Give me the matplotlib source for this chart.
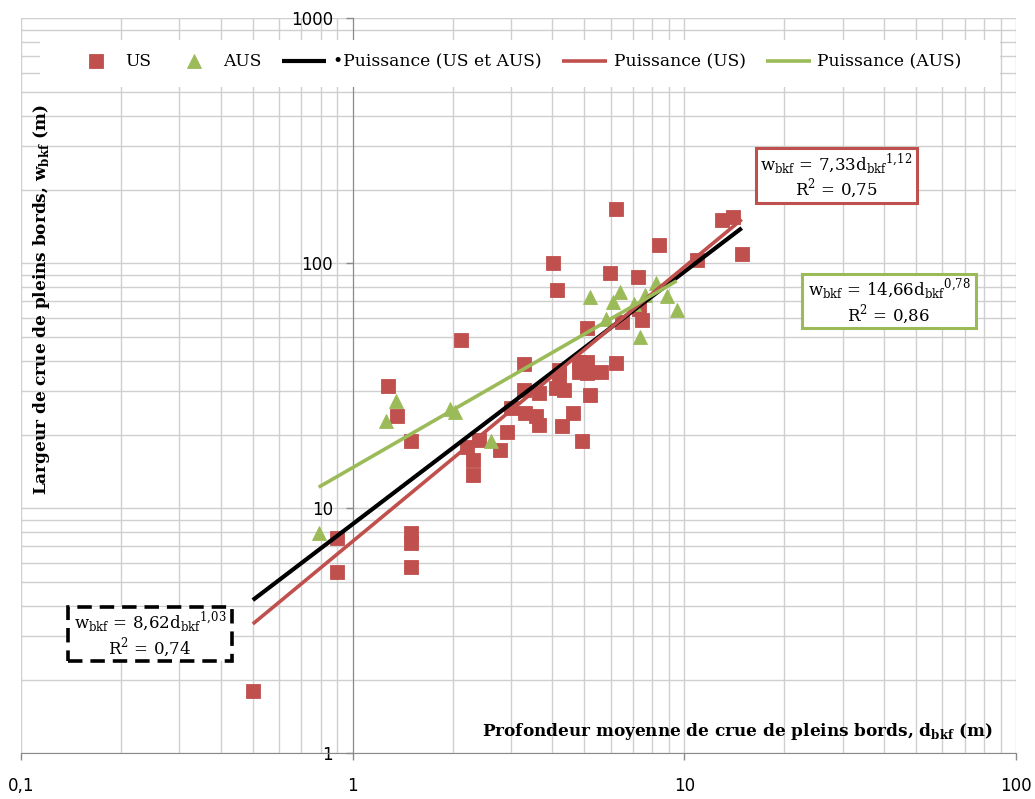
import numpy as np
import matplotlib
matplotlib.use('Agg')
import matplotlib.pyplot as plt
from matplotlib.patches import Rectangle
from matplotlib.ticker import LogLocator, FixedLocator, FixedFormatter, NullFormatter

# ---------------- data ----------------
us_d = [0.50, 0.90, 0.90, 1.28, 1.36, 1.50, 1.50, 1.50, 1.50, 2.12, 2.21, 2.40, 2.30, 2.30,
        2.79, 2.91, 3.00, 3.28, 3.28, 3.30, 3.56, 3.64, 3.64, 4.01, 4.12, 4.09, 4.18, 4.18,
        4.33, 4.27, 4.61, 4.80, 4.80, 4.90, 5.08, 5.08, 5.08, 5.18, 5.59, 5.95, 6.21, 6.21,
        6.47, 7.23, 7.28, 7.43, 8.37, 10.9, 13.0, 14.0, 14.9]
us_w = [1.80, 7.56, 5.50, 31.6, 23.8, 18.8, 7.93, 7.22, 5.76, 48.6, 17.8, 19.0, 15.7, 13.7,
        17.3, 20.5, 25.7, 38.8, 30.4, 24.5, 23.8, 29.6, 21.9, 100.3, 77.8, 31.0, 36.7, 34.4,
        30.4, 21.7, 24.5, 39.6, 36.0, 18.8, 39.6, 35.7, 54.4, 29.0, 36.0, 91.3, 166.5, 39.2,
        57.6, 87.9, 65.1, 58.7, 118.8, 103.2, 150.2, 154.5, 109.1]

aus_d = [0.79, 1.26, 1.35, 1.96, 2.03, 2.61, 5.18, 5.79, 6.08, 6.38, 7.03, 7.33, 7.59, 8.19, 8.84, 9.48]
aus_w = [7.93, 22.7, 27.4, 25.4, 24.7, 18.8, 72.9, 59.3, 69.5, 76.4, 68.2, 50.0, 74.2, 83.1, 73.6, 64.5]

series_names = ['US', 'AUS']
fit_names = ['•Puissance (US et AUS)', 'Puissance (US)', 'Puissance (AUS)']
fit_coef = [8.62, 7.33, 14.66]
fit_expo = [1.03, 1.12, 0.78]
fit_coef_txt = ['8,62', '7,33', '14,66']
fit_expo_txt = ['1{,}03', '1{,}12', '0{,}78']
fit_r2_txt = ['0,74', '0,75', '0,86']

x_ticks = [0.1, 1, 10, 100]
x_ticklabels = ['0,1', '1', '10', '100']
y_ticks = [1, 10, 100, 1000]
y_ticklabels = ['1', '10', '100', '1000']

x_label = r'Profondeur moyenne de crue de pleins bords, d$_{\mathregular{bkf}}$ (m)'
y_label = r'Largeur de crue de pleins bords, w$_{\mathregular{bkf}}$ (m)'

# ---------------- style ----------------
RED = '#C0504D'
GREEN = '#9BBB59'
BLACK = '#000000'
GRID = '#cfcfcf'
AXIS = '#8a8a8a'
SERIF = ['DejaVu Serif', 'Liberation Serif']

W, H = 1035, 799
fig = plt.figure(figsize=(W / 100, H / 100), dpi=100)
fig.patch.set_facecolor('white')

def fx(px):
    return px / W

def fy(py):
    return 1 - py / H

ax = fig.add_axes([fx(21), fy(753.3), (1016 - 21) / W, (753.3 - 18.3) / H])
ax.set_xscale('log')
ax.set_yscale('log')

# scatter series
ax.plot(us_d, us_w, linestyle='none', marker='s', ms=9.8, color=RED, mec=RED,
        mew=0.6, zorder=3, label=series_names[0])
ax.plot(aus_d, aus_w, linestyle='none', marker='^', ms=10.5, color=GREEN, mec=GREEN,
        mew=0.6, zorder=3, label=series_names[1])

# power trend lines
all_d = us_d + aus_d
ranges = [(min(all_d), max(all_d)), (min(us_d), max(us_d)), (min(aus_d), max(aus_d))]
fit_colors = [BLACK, RED, GREEN]
fit_lw = [3.0, 2.6, 2.6]
for name, a, b, (lo, hi), c, lw in zip(fit_names, fit_coef, fit_expo, ranges, fit_colors, fit_lw):
    xs = np.array([lo, hi])
    ax.plot(xs, a * xs ** b, color=c, lw=lw, solid_capstyle='butt', zorder=4, label=name)

ax.set_xlim(0.1, 100)
ax.set_ylim(1, 1000)

# ticks and grid
ax.xaxis.set_major_locator(FixedLocator(x_ticks))
ax.xaxis.set_major_formatter(FixedFormatter(x_ticklabels))
ax.yaxis.set_major_locator(FixedLocator(y_ticks))
ax.yaxis.set_major_formatter(FixedFormatter(y_ticklabels))
ax.xaxis.set_minor_locator(LogLocator(base=10, subs=np.arange(2, 10)))
ax.yaxis.set_minor_locator(LogLocator(base=10, subs=np.arange(2, 10)))
ax.xaxis.set_minor_formatter(NullFormatter())
ax.yaxis.set_minor_formatter(NullFormatter())
ax.grid(which='both', color=GRID, lw=1.0, zorder=0)
ax.set_axisbelow(True)

ax.tick_params(which='major', length=5, width=1, color=AXIS, labelsize=12,
               labelcolor='black', direction='out')
ax.tick_params(axis='x', which='major', pad=12)
ax.tick_params(axis='y', which='major', pad=9)
ax.tick_params(which='minor', length=0)
for lab in ax.get_xticklabels() + ax.get_yticklabels():
    lab.set_family('DejaVu Sans')

for s in ['top', 'right']:
    ax.spines[s].set_visible(False)
ax.spines['left'].set_position(('data', 1))
ax.spines['left'].set_color(AXIS)
ax.spines['bottom'].set_color(AXIS)
ax.spines['left'].set_zorder(1)

# legend with white background band
ax.add_artist(Rectangle((fx(40), fy(87)), fx(1000) - fx(40), fy(40) - fy(87),
                        transform=fig.transFigure, facecolor='white', edgecolor='none',
                        zorder=4.5))
handles, labels = ax.get_legend_handles_labels()
leg = ax.legend(handles, labels, loc='center', bbox_to_anchor=(fx(518), fy(62)),
                bbox_transform=fig.transFigure, ncol=5, frameon=False,
                prop={'family': SERIF, 'size': 12.3}, handlelength=2.6,
                handletextpad=0.4, columnspacing=1.2, numpoints=1)
leg.set_zorder(5)

# axis titles
fig.text(fx(993), fy(731), x_label, ha='right', va='center', fontsize=12.2,
         fontweight='bold', family=SERIF)
fig.text(fx(42), fy(300), y_label, ha='center', va='center', fontsize=12.2,
         fontweight='bold', family=SERIF, rotation=90)

# equation boxes: (left, top, right, bottom) in pixels
boxes = [(68, 607, 232, 661), (756, 148, 917, 203), (802, 274, 976, 328)]
box_styles = [dict(edgecolor=BLACK, lw=2.6, ls=(0, (4, 2.2))),
              dict(edgecolor=RED, lw=2.2, ls='-'),
              dict(edgecolor=GREEN, lw=2.2, ls='-')]
for (l, t, r, b), st, ct, et, r2 in zip(boxes, box_styles, fit_coef_txt, fit_expo_txt, fit_r2_txt):
    rect = Rectangle((fx(l), fy(b)), fx(r) - fx(l), fy(t) - fy(b), transform=fig.transFigure,
                     facecolor='white', zorder=6, **st)
    fig.add_artist(rect)
    cx = (l + r) / 2
    cy = (t + b) / 2
    eq = (r'w$_{\mathregular{bkf}}$ = ' + ct +
          r'd$_{\mathregular{bkf}}{}^{\mathregular{' + et + '}}$')
    fig.text(fx(cx), fy(cy - 12), eq, ha='center', va='center', fontsize=12,
             family=SERIF, zorder=7)
    fig.text(fx(cx), fy(cy + 13), r'R$^{\mathregular{2}}$ = ' + r2, ha='center', va='center',
             fontsize=12, family=SERIF, zorder=7)

fig.savefig('out.png', dpi=100)
